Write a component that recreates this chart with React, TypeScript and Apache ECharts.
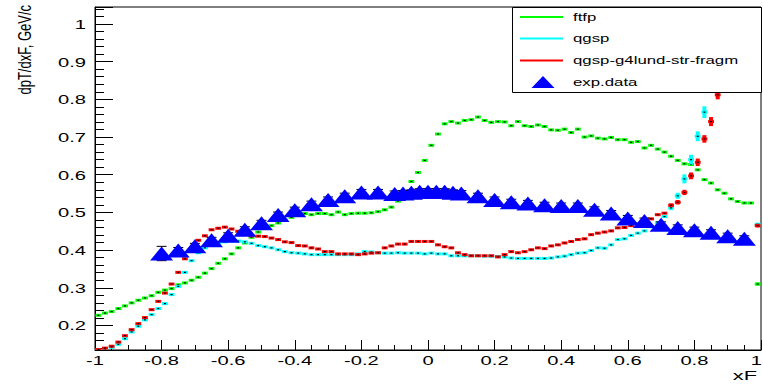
import React, { useEffect, useRef } from 'react';
import * as echarts from 'echarts';

// ---------- data ----------
const BIN_START = -1;
const BIN_WIDTH = 0.02;

// ftfp (green), 100 bins from -1 to 1
const FTFP = [
  0.227, 0.233, 0.237, 0.245, 0.252, 0.260, 0.267, 0.273, 0.279, 0.288,
  0.294, 0.298, 0.308, 0.313, 0.320, 0.328, 0.339, 0.351, 0.365, 0.377,
  0.390, 0.406, 0.419, 0.434, 0.448, 0.458, 0.465, 0.472, 0.480, 0.487,
  0.492, 0.497, 0.494, 0.497, 0.497, 0.494, 0.501, 0.494, 0.497, 0.498,
  0.498, 0.499, 0.502, 0.507, 0.514, 0.530, 0.555, 0.582, 0.606, 0.638,
  0.678, 0.708, 0.735, 0.741, 0.737, 0.744, 0.746, 0.753, 0.744, 0.739,
  0.741, 0.740, 0.730, 0.741, 0.730, 0.728, 0.732, 0.728, 0.719, 0.718,
  0.721, 0.712, 0.721, 0.700, 0.703, 0.697, 0.695, 0.699, 0.693, 0.693,
  0.686, 0.688, 0.671, 0.678, 0.668, 0.660, 0.649, 0.638, 0.629, 0.627,
  0.613, 0.587, 0.578, 0.560, 0.551, 0.536, 0.529, 0.525, 0.525, 0.310,
];
const FTFP_ERR = [
  0.003, 0.003, 0.003, 0.003, 0.003, 0.003, 0.003, 0.003, 0.003, 0.003,
  0.003, 0.003, 0.003, 0.003, 0.003, 0.003, 0.003, 0.003, 0.003, 0.003,
  0.003, 0.003, 0.003, 0.003, 0.003, 0.003, 0.003, 0.003, 0.003, 0.003,
  0.003, 0.003, 0.003, 0.003, 0.003, 0.003, 0.003, 0.003, 0.003, 0.003,
  0.003, 0.003, 0.003, 0.003, 0.003, 0.003, 0.003, 0.003, 0.003, 0.003,
  0.003, 0.003, 0.003, 0.003, 0.003, 0.003, 0.003, 0.003, 0.003, 0.003,
  0.003, 0.003, 0.003, 0.003, 0.003, 0.003, 0.003, 0.003, 0.003, 0.003,
  0.003, 0.003, 0.003, 0.003, 0.003, 0.003, 0.003, 0.003, 0.003, 0.003,
  0.003, 0.003, 0.003, 0.003, 0.003, 0.003, 0.003, 0.003, 0.003, 0.003,
  0.003, 0.003, 0.003, 0.003, 0.003, 0.003, 0.003, 0.003, 0.003, 0.004,
];

// qgsp (cyan)
const QGSP = [
  0.135, 0.138, 0.142, 0.150, 0.165, 0.183, 0.198, 0.215, 0.229, 0.245,
  0.258, 0.282, 0.304, 0.341, 0.372, 0.393, 0.406, 0.414, 0.419, 0.422,
  0.424, 0.424, 0.422, 0.418, 0.412, 0.409, 0.406, 0.401, 0.396, 0.393,
  0.392, 0.390, 0.388, 0.388, 0.388, 0.388, 0.388, 0.388, 0.388, 0.390,
  0.396, 0.395, 0.393, 0.392, 0.392, 0.393, 0.392, 0.392, 0.392, 0.390,
  0.392, 0.390, 0.390, 0.385, 0.385, 0.385, 0.385, 0.385, 0.384, 0.384,
  0.383, 0.382, 0.379, 0.378, 0.378, 0.378, 0.378, 0.378, 0.379, 0.382,
  0.384, 0.388, 0.392, 0.393, 0.399, 0.406, 0.405, 0.414, 0.428, 0.430,
  0.439, 0.445, 0.451, 0.462, 0.473, 0.489, 0.512, 0.544, 0.589, 0.640,
  0.702, 0.766, 0.840, 0.920, 0.980, 1.000, 0.970, 0.930, 0.880, 0.468,
];
const QGSP_ERR = [
  0.003, 0.003, 0.003, 0.003, 0.003, 0.003, 0.003, 0.003, 0.003, 0.003,
  0.003, 0.003, 0.003, 0.003, 0.003, 0.003, 0.003, 0.003, 0.003, 0.003,
  0.003, 0.003, 0.003, 0.003, 0.003, 0.003, 0.003, 0.003, 0.003, 0.003,
  0.003, 0.003, 0.003, 0.003, 0.003, 0.003, 0.003, 0.003, 0.003, 0.003,
  0.003, 0.003, 0.003, 0.003, 0.003, 0.003, 0.003, 0.003, 0.003, 0.003,
  0.003, 0.003, 0.003, 0.003, 0.003, 0.003, 0.003, 0.003, 0.003, 0.003,
  0.003, 0.003, 0.003, 0.003, 0.003, 0.003, 0.003, 0.003, 0.003, 0.003,
  0.003, 0.003, 0.003, 0.003, 0.003, 0.003, 0.003, 0.003, 0.003, 0.003,
  0.003, 0.003, 0.003, 0.003, 0.003, 0.003, 0.006, 0.008, 0.012, 0.013,
  0.013, 0.0155, 0.016, 0.017, 0.017, 0.017, 0.017, 0.016, 0.016, 0.005,
];

// qgsp-g4lund-str-fragm (red)
const QGSP_LUND = [
  0.136, 0.140, 0.145, 0.156, 0.173, 0.189, 0.205, 0.221, 0.242, 0.264,
  0.286, 0.310, 0.341, 0.377, 0.400, 0.426, 0.438, 0.454, 0.458, 0.461,
  0.456, 0.450, 0.444, 0.438, 0.437, 0.436, 0.432, 0.428, 0.422, 0.420,
  0.412, 0.411, 0.406, 0.403, 0.396, 0.396, 0.390, 0.390, 0.390, 0.388,
  0.390, 0.392, 0.393, 0.406, 0.411, 0.416, 0.416, 0.423, 0.423, 0.423,
  0.423, 0.414, 0.409, 0.406, 0.393, 0.388, 0.385, 0.385, 0.385, 0.385,
  0.382, 0.388, 0.396, 0.393, 0.396, 0.401, 0.406, 0.404, 0.411, 0.414,
  0.419, 0.423, 0.428, 0.430, 0.441, 0.445, 0.448, 0.451, 0.459, 0.460,
  0.465, 0.469, 0.475, 0.483, 0.494, 0.498, 0.519, 0.527, 0.553, 0.597,
  0.633, 0.695, 0.741, 0.812, 0.880, 0.950, 0.980, 0.960, 0.920, 0.465,
];
const QGSP_LUND_ERR = [
  0.003, 0.003, 0.003, 0.003, 0.003, 0.003, 0.003, 0.003, 0.003, 0.003,
  0.003, 0.003, 0.003, 0.003, 0.003, 0.003, 0.003, 0.003, 0.003, 0.003,
  0.003, 0.003, 0.003, 0.003, 0.003, 0.003, 0.003, 0.003, 0.003, 0.003,
  0.003, 0.003, 0.003, 0.003, 0.003, 0.003, 0.003, 0.003, 0.003, 0.003,
  0.003, 0.003, 0.003, 0.003, 0.003, 0.003, 0.003, 0.003, 0.003, 0.003,
  0.003, 0.003, 0.003, 0.003, 0.003, 0.003, 0.003, 0.003, 0.003, 0.003,
  0.003, 0.003, 0.003, 0.003, 0.003, 0.003, 0.003, 0.003, 0.003, 0.003,
  0.003, 0.003, 0.003, 0.003, 0.003, 0.003, 0.003, 0.003, 0.003, 0.003,
  0.003, 0.003, 0.003, 0.003, 0.003, 0.003, 0.005, 0.006, 0.007, 0.009,
  0.010, 0.010, 0.012, 0.012, 0.013, 0.014, 0.014, 0.014, 0.013, 0.005,
];

// experimental data
const EXP_X = [
  -0.8, -0.75, -0.7, -0.65, -0.6, -0.55, -0.5, -0.45, -0.4, -0.35,
  -0.3, -0.25, -0.2, -0.15, -0.1, -0.075, -0.05, -0.025, 0, 0.025,
  0.05, 0.075, 0.1, 0.15, 0.2, 0.25, 0.3, 0.35, 0.4, 0.45,
  0.5, 0.55, 0.6, 0.65, 0.7, 0.75, 0.8, 0.85, 0.9, 0.95,
];
const EXP_Y = [
  0.391, 0.399, 0.410, 0.426, 0.438, 0.454, 0.471, 0.493, 0.506, 0.522,
  0.533, 0.543, 0.553, 0.553, 0.549, 0.550, 0.552, 0.555, 0.555, 0.555,
  0.555, 0.552, 0.550, 0.543, 0.533, 0.527, 0.524, 0.519, 0.517, 0.517,
  0.507, 0.497, 0.484, 0.477, 0.467, 0.459, 0.453, 0.446, 0.437, 0.430,
];
const EXP_ERR = [
  0.019, 0.008, 0.008, 0.008, 0.008, 0.008, 0.008, 0.008, 0.008, 0.008,
  0.008, 0.008, 0.008, 0.008, 0.008, 0.008, 0.008, 0.008, 0.008, 0.008,
  0.008, 0.008, 0.008, 0.008, 0.008, 0.008, 0.008, 0.008, 0.008, 0.008,
  0.008, 0.008, 0.008, 0.008, 0.008, 0.008, 0.008, 0.008, 0.008, 0.008,
];

// axes
const X_MIN = -1;
const X_MAX = 1;
const Y_MIN = 0.135;
const Y_MAX = 1.045;
const X_TICKS = [-1, -0.8, -0.6, -0.4, -0.2, 0, 0.2, 0.4, 0.6, 0.8, 1];
const X_TICK_LABELS = ['-1', '-0.8', '-0.6', '-0.4', '-0.2', '0', '0.2', '0.4', '0.6', '0.8', '1'];
const Y_TICKS = [0.2, 0.3, 0.4, 0.5, 0.6, 0.7, 0.8, 0.9, 1];
const Y_TICK_LABELS = ['0.2', '0.3', '0.4', '0.5', '0.6', '0.7', '0.8', '0.9', '1'];
const X_TITLE = 'xF';
const Y_TITLE = 'dpT/dxF, GeV/c';

const SERIES_NAMES = ['ftfp', 'qgsp', 'qgsp-g4lund-str-fragm', 'exp.data'];
const COLORS = ['#00ff00', '#00ffff', '#ff0000', '#0000ff'];

// ---------- styling ----------
const FONT = '"Liberation Sans", Arial, Helvetica, sans-serif';
const STRETCH = 1.68;
const PAGE_W = 763;

function histRender(color: string) {
  return (params: any, api: any) => {
    const x = api.value(0);
    const y = api.value(1);
    const e = api.value(2);
    const c = api.coord([x, y]);
    const w = api.size([BIN_WIDTH, 0])[0];
    const hi = api.coord([x, y + e]);
    const lo = api.coord([x, y - e]);
    const children: any[] = [
      {
        type: 'rect',
        shape: { x: c[0] - w / 2 + 0.4, y: c[1] - 1.5, width: w - 0.8, height: 3 },
        style: { fill: color },
      },
    ];
    if (lo[1] - hi[1] > 3) {
      children.push({
        type: 'rect',
        shape: { x: c[0] - 2, y: hi[1], width: 4, height: lo[1] - hi[1] },
        style: { fill: color },
      });
    }
    children.push({
      type: 'rect',
      shape: { x: c[0] - 1, y: c[1] - 0.6, width: 2, height: 1.2 },
      style: { fill: '#000' },
    });
    return { type: 'group', children };
  };
}

function errRender(params: any, api: any) {
  const x = api.value(0);
  const y = api.value(1);
  const e = api.value(2);
  const c = api.coord([x, y]);
  const hi = api.coord([x, y + e]);
  const lo = api.coord([x, y - e]);
  const st = { stroke: '#000', lineWidth: 1 };
  return {
    type: 'group',
    children: [
      { type: 'line', shape: { x1: c[0], y1: hi[1], x2: c[0], y2: lo[1] }, style: st },
      { type: 'line', shape: { x1: c[0] - 5, y1: hi[1], x2: c[0] + 5, y2: hi[1] }, style: st },
      { type: 'line', shape: { x1: c[0] - 5, y1: lo[1], x2: c[0] + 5, y2: lo[1] }, style: st },
    ],
  };
}

function binData(values: number[], errors: number[]) {
  return values.map((v, i) => [BIN_START + BIN_WIDTH * (i + 0.5), v, errors[i]]);
}

export default function App() {
  const ref = useRef<HTMLDivElement>(null);

  useEffect(() => {
    if (!ref.current) return;
    const chart = echarts.init(ref.current, null, { renderer: 'svg' });

    const hist = [
      { values: FTFP, errors: FTFP_ERR },
      { values: QGSP, errors: QGSP_ERR },
      { values: QGSP_LUND, errors: QGSP_LUND_ERR },
    ];

    const option: any = {
      animation: false,
      backgroundColor: '#ffffff',
      grid: {
        left: 95,
        right: 2,
        top: 7,
        bottom: 34,
        show: true,
        borderColor: '#000',
        borderWidth: 1,
        backgroundColor: 'transparent',
      },
      xAxis: {
        type: 'value',
        min: X_MIN,
        max: X_MAX,
        interval: 0.2,
        axisLine: { show: true, onZero: false, lineStyle: { color: '#000', width: 1 } },
        axisTick: { show: true, inside: true, length: 10, lineStyle: { color: '#000', width: 1 } },
        minorTick: { show: true, splitNumber: 4, length: 5, lineStyle: { color: '#000', width: 1 } },
        axisLabel: { show: false },
        splitLine: { show: false },
      },
      yAxis: {
        type: 'value',
        min: Y_MIN,
        max: Y_MAX,
        splitNumber: 9,
        axisLine: { show: true, onZero: false, lineStyle: { color: '#000', width: 1 } },
        axisTick: { show: true, inside: true, length: 18, lineStyle: { color: '#000', width: 1 } },
        minorTick: { show: true, splitNumber: 5, length: 9, lineStyle: { color: '#000', width: 1 } },
        axisLabel: { show: false },
        splitLine: { show: false },
      },
      series: [
        ...hist.map((h, i) => ({
          name: SERIES_NAMES[i],
          type: 'custom',
          clip: true,
          renderItem: histRender(COLORS[i]),
          data: binData(h.values, h.errors),
          encode: { x: 0, y: 1 },
        })),
        {
          name: SERIES_NAMES[3] + ' errors',
          type: 'custom',
          clip: true,
          renderItem: errRender,
          data: EXP_X.map((x, i) => [x, EXP_Y[i], EXP_ERR[i]]),
          encode: { x: 0, y: 1 },
        },
        {
          name: SERIES_NAMES[3],
          type: 'scatter',
          symbol: 'triangle',
          symbolSize: [23, 14],
          itemStyle: { color: COLORS[3], opacity: 1 },
          data: EXP_X.map((x, i) => [x, EXP_Y[i]]),
        },
      ],
    };
    chart.setOption(option);

    const textStyle = (text: string, align: string, vAlign: string, size: number) => ({
      text,
      align,
      textAlign: align,
      verticalAlign: vAlign,
      textVerticalAlign: vAlign,
      fontSize: size,
      fontFamily: FONT,
      fill: '#000',
    });

    const graphics: any[] = [];
    X_TICKS.forEach((v, i) => {
      const p = chart.convertToPixel({ gridIndex: 0 }, [v, Y_MIN]) as number[];
      const last = i === X_TICKS.length - 1;
      graphics.push({
        type: 'text',
        x: last ? PAGE_W - 1 : p[0],
        y: p[1] + 5,
        scaleX: STRETCH,
        style: textStyle(X_TICK_LABELS[i], last ? 'right' : 'center', 'top', 12),
      });
    });
    Y_TICKS.forEach((v, i) => {
      const p = chart.convertToPixel({ gridIndex: 0 }, [X_MIN, v]) as number[];
      graphics.push({
        type: 'text',
        x: p[0] - 9,
        y: p[1] + 1,
        scaleX: STRETCH,
        style: textStyle(Y_TICK_LABELS[i], 'right', 'middle', 12),
      });
    });
    const corner = chart.convertToPixel({ gridIndex: 0 }, [X_MAX, Y_MIN]) as number[];
    graphics.push({
      type: 'text',
      x: corner[0] - 4,
      y: corner[1] + 26,
      scaleX: STRETCH,
      style: textStyle(X_TITLE, 'right', 'middle', 13),
    });
    const topLeft = chart.convertToPixel({ gridIndex: 0 }, [X_MIN, Y_MAX]) as number[];
    graphics.push({
      type: 'text',
      x: 24,
      y: topLeft[1] - 2,
      rotation: Math.PI / 2,
      scaleY: 1.45,
      style: textStyle(Y_TITLE, 'right', 'middle', 13),
    });

    // legend box (ROOT TLegend look), drawn above the data
    const LZ = 100;
    const LX = 512.5;
    const LY = 7.5;
    const LW = 249;
    const LH = 85;
    const rowY = [17, 38.5, 60.5, 82];
    graphics.push({
      type: 'rect',
      z: LZ,
      shape: { x: LX, y: LY, width: LW, height: LH },
      style: { fill: '#fff', stroke: '#000', lineWidth: 1 },
    });
    SERIES_NAMES.forEach((name, i) => {
      const y = rowY[i];
      if (i < 3) {
        graphics.push({
          type: 'line',
          z: LZ + 1,
          shape: { x1: LX + 7.5, y1: y, x2: LX + 50.5, y2: y },
          style: { stroke: COLORS[i], lineWidth: 2 },
        });
      } else {
        graphics.push({
          type: 'polygon',
          z: LZ + 1,
          shape: { points: [[LX + 19, y + 6], [LX + 42, y + 6], [LX + 30.5, y - 6]] },
          style: { fill: COLORS[i] },
        });
      }
      graphics.push({
        type: 'text',
        z: LZ + 1,
        x: LX + 60.5,
        y: y,
        scaleX: STRETCH,
        style: textStyle(name, 'left', 'middle', 10),
      });
    });

    chart.setOption({ graphic: graphics });

    return () => {
      chart.dispose();
    };
  }, []);

  return (
    <div
      ref={ref}
      style={{ position: 'fixed', left: 0, top: 0, width: PAGE_W, height: 384, background: '#fff' }}
    />
  );
}
